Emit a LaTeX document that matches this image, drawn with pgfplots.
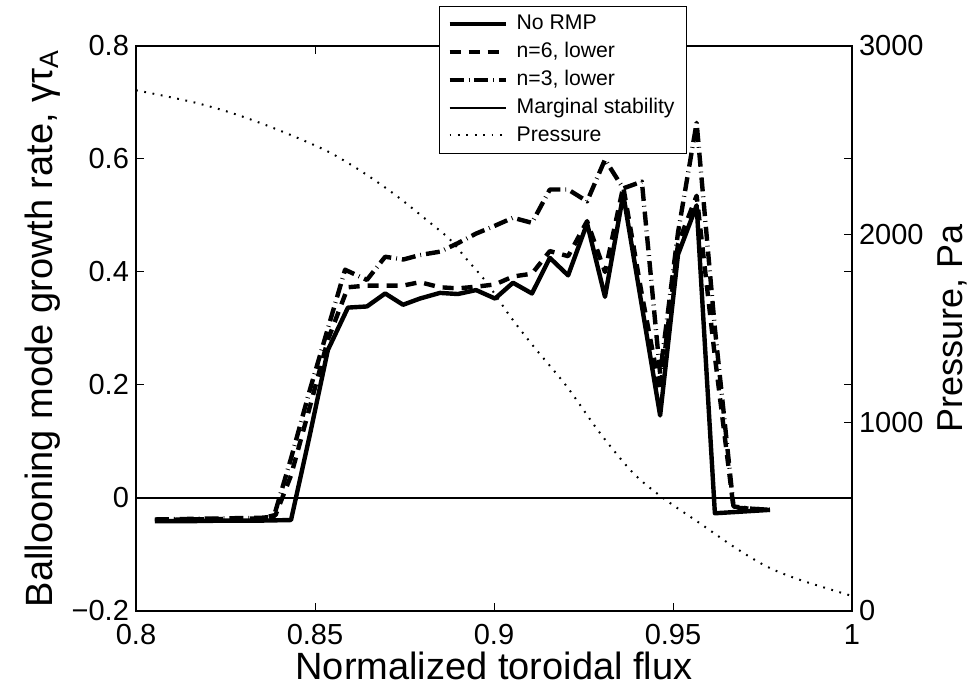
\documentclass[border=0pt]{standalone}
\usepackage{fontspec}
\setmainfont{Liberation Sans}
\usepackage{pgfplots}
\pgfplotsset{compat=1.18}
\begin{document}
\begin{tikzpicture}
\path[use as bounding box] (0,0) rectangle (483.5pt,342.5pt);
\begin{axis}[
  at={(68pt,37pt)}, anchor=south west,
  scale only axis, width=358pt, height=282.5pt,
  xmin=0.8, xmax=1, ymin=-0.2, ymax=0.8,
  xtick={0.8,0.85,0.9,0.95,1}, xticklabels={0.8,0.85,0.9,0.95,1},
  ytick={-0.2,0,0.2,0.4,0.6,0.8}, yticklabels={−0.2,0,0.2,0.4,0.6,0.8},
  xtick pos=both, ytick pos=both,
  xticklabel pos=lower, yticklabel pos=left,
  tick align=inside, major tick length=4pt,
  tick style={black, line width=0.5pt},
  axis line style={line width=0.6pt},
  ticklabel style={font=\fontsize{14.5}{16}\selectfont},
  xticklabel style={yshift=-3pt},
  xlabel style={font=\fontsize{19}{22}\selectfont, yshift=3pt},
  ylabel style={font=\fontsize{19}{22}\selectfont, yshift=-1pt},
  xlabel={Normalized toroidal flux},
  ylabel={Ballooning mode growth rate, γτ\textsubscript{A}},
  legend cell align=left,
  legend style={at={(0.423,1.071)}, anchor=north west, draw=black, line width=0.5pt,
    fill=white, font=\fontsize{10.6}{12}\selectfont, inner xsep=4pt, inner ysep=2.5pt, row sep=0.8pt,
    /tikz/every odd column/.append style={column sep=2pt}},
  legend image code/.code={\draw[#1] (0cm,0cm) -- (1.0cm,0cm);},
]
\addplot[black, line width=2.2pt, line join=round] coordinates {
(0.8053,-0.041) (0.8150,-0.041) (0.8250,-0.040) (0.8350,-0.040) (0.8433,-0.039)
(0.8485,0.110) (0.8536,0.262) (0.8592,0.337) (0.8645,0.339) (0.8696,0.362)
(0.8746,0.342) (0.8793,0.353) (0.8849,0.363) (0.8899,0.361) (0.8950,0.368)
(0.9003,0.353) (0.9053,0.381) (0.9106,0.362) (0.9156,0.425) (0.9207,0.394)
(0.9260,0.486) (0.9310,0.356) (0.9361,0.537) (0.9413,0.340) (0.9464,0.146)
(0.9514,0.431) (0.9566,0.518) (0.9617,-0.027) (0.9669,-0.025) (0.9720,-0.023)
(0.9771,-0.021)};
\addlegendentry{No RMP}
\addplot[black, line width=2.2pt, line join=round, dash pattern=on 5.5pt off 4pt] coordinates {
(0.8053,-0.039) (0.8150,-0.038) (0.8250,-0.037) (0.8350,-0.036) (0.8390,-0.030)
(0.8433,0.040) (0.8485,0.160) (0.8536,0.280) (0.8592,0.373) (0.8645,0.376)
(0.8696,0.376) (0.8746,0.376) (0.8793,0.382) (0.8849,0.373) (0.8899,0.371)
(0.8950,0.374) (0.9003,0.378) (0.9053,0.392) (0.9106,0.397) (0.9156,0.437)
(0.9207,0.428) (0.9260,0.490) (0.9310,0.400) (0.9361,0.551) (0.9413,0.360)
(0.9464,0.190) (0.9514,0.450) (0.9566,0.535) (0.9617,0.250) (0.9669,-0.017)
(0.9720,-0.019) (0.9771,-0.021)};
\addlegendentry{n=6, lower}
\addplot[black, line width=2.2pt, line join=round, dash pattern=on 7pt off 2.5pt on 0.4pt off 2.5pt] coordinates {
(0.8053,-0.038) (0.8150,-0.037) (0.8250,-0.036) (0.8350,-0.035) (0.8385,-0.033)
(0.8433,0.070) (0.8485,0.190) (0.8536,0.300) (0.8584,0.404) (0.8645,0.386)
(0.8696,0.427) (0.8746,0.422) (0.8793,0.430) (0.8849,0.436) (0.8899,0.451)
(0.8950,0.468) (0.9003,0.482) (0.9053,0.496) (0.9106,0.487) (0.9156,0.546)
(0.9207,0.546) (0.9260,0.525) (0.9310,0.599) (0.9361,0.548) (0.9413,0.560)
(0.9464,0.220) (0.9514,0.470) (0.9566,0.664) (0.9617,0.300) (0.9669,-0.015)
(0.9720,-0.019) (0.9771,-0.021)};
\addlegendentry{n=3, lower}
\addplot[black, line width=0.9pt] coordinates {(0.8,0) (1,0)};
\addlegendentry{Marginal stability}
\addlegendimage{black, line width=1pt, dash pattern=on 0.9pt off 3.3pt}
\addlegendentry{Pressure}
\end{axis}
\begin{axis}[
  at={(68pt,37pt)}, anchor=south west,
  scale only axis, width=358pt, height=282.5pt,
  xmin=0.8, xmax=1, ymin=0, ymax=3000,
  axis x line=none, axis y line*=right,
  ytick={0,1000,2000,3000}, yticklabels={0,1000,2000,3000},
  tick align=inside, major tick length=4pt,
  tick style={black, line width=0.5pt},
  axis line style={line width=0.6pt},
  ticklabel style={font=\fontsize{14.5}{16}\selectfont},
  ylabel style={font=\fontsize{18}{21}\selectfont},
  ylabel={Pressure, Pa},
]
\addplot[black, line width=1pt, dash pattern=on 0.9pt off 3.3pt, smooth] coordinates {
(0.8000,2765) (0.8076,2736) (0.8170,2697) (0.8263,2647) (0.8356,2585)
(0.8449,2514) (0.8542,2434) (0.8635,2328) (0.8728,2204) (0.8821,2062)
(0.8877,1973) (0.8924,1867) (0.8980,1743) (0.9045,1565) (0.9110,1406)
(0.9203,1193) (0.9296,945) (0.9389,732) (0.9473,599) (0.9575,466)
(0.9669,342) (0.9762,236) (0.9855,165) (1.0000,80)};
\end{axis}
\end{tikzpicture}
\end{document}
